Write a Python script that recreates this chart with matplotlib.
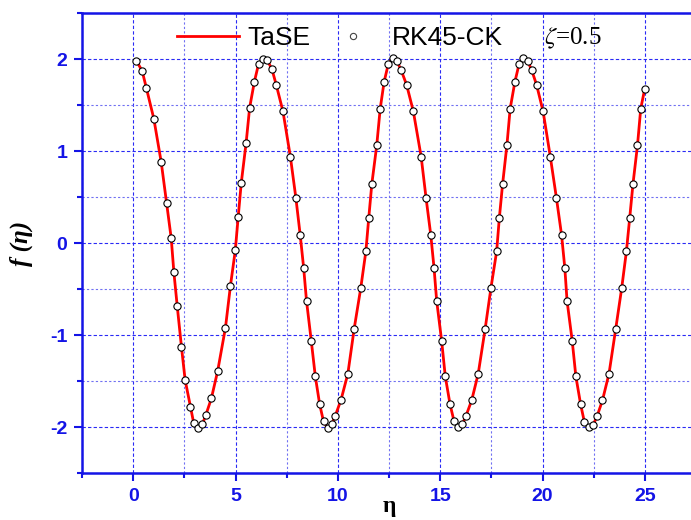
import numpy as np
import matplotlib
matplotlib.use('Agg')
import matplotlib.pyplot as plt
from matplotlib.lines import Line2D
from matplotlib.ticker import MultipleLocator

# values (TaSE line and RK45-CK circles coincide)
eta = [0.16, 0.44, 0.65, 1.01, 1.37, 1.63, 1.86, 1.99, 2.15, 2.36, 2.54, 2.80, 2.96, 3.16,
       3.38, 3.55, 3.82, 4.13, 4.51, 4.75, 4.99, 5.13, 5.28, 5.52, 5.69, 5.92, 6.13, 6.34,
       6.54, 6.78, 6.99, 7.32, 7.68, 7.95, 8.16, 8.33, 8.47, 8.70, 8.90, 9.11, 9.30, 9.51,
       9.70, 9.87, 10.15, 10.49, 10.80, 11.12, 11.37, 11.51, 11.66, 11.90, 12.07, 12.26,
       12.47, 12.68, 12.88, 13.09, 13.36, 13.69, 14.07, 14.31, 14.54, 14.70, 14.83, 15.07,
       15.25, 15.48, 15.68, 15.89, 16.08, 16.26, 16.54, 16.86, 17.20, 17.48, 17.76, 17.89,
       18.05, 18.26, 18.42, 18.65, 18.86, 19.03, 19.27, 19.47, 19.71, 20.03, 20.38, 20.68,
       20.93, 21.09, 21.20, 21.45, 21.63, 21.86, 22.05, 22.26, 22.47, 22.67, 22.93, 23.25,
       23.58, 23.87, 24.10, 24.26, 24.42, 24.64, 24.80, 24.99]
f_eta = [1.98, 1.87, 1.68, 1.35, 0.88, 0.44, 0.05, -0.32, -0.68, -1.13, -1.49, -1.78, -1.96, -2.01,
         -1.97, -1.87, -1.69, -1.39, -0.92, -0.47, -0.08, 0.28, 0.65, 1.09, 1.47, 1.75, 1.95, 2.00,
         1.99, 1.89, 1.72, 1.43, 0.94, 0.49, 0.09, -0.27, -0.63, -1.06, -1.45, -1.75, -1.94, -2.01,
         -1.97, -1.88, -1.71, -1.42, -0.93, -0.49, -0.09, 0.27, 0.64, 1.06, 1.46, 1.75,
         1.95, 2.01, 1.98, 1.88, 1.72, 1.43, 0.94, 0.49, 0.09, -0.27, -0.63, -1.06,
         -1.45, -1.75, -1.94, -2.00, -1.97, -1.88, -1.71, -1.42, -0.93, -0.49, -0.09, 0.27,
         0.64, 1.06, 1.46, 1.75, 1.95, 2.01, 1.98, 1.88, 1.72, 1.43, 0.94, 0.49,
         0.09, -0.27, -0.63, -1.06, -1.45, -1.75, -1.95, -2.00, -1.98, -1.88, -1.71, -1.42,
         -0.93, -0.49, -0.09, 0.27, 0.64, 1.06, 1.46, 1.67]
x_ticks = [0, 5, 10, 15, 20, 25]
y_ticks = [-2, -1, 0, 1, 2]

blue = '#1414e6'
plt.rcParams['mathtext.fontset'] = 'stix'
plt.rcParams['axes.unicode_minus'] = False

fig = plt.figure(figsize=(6.91, 5.2), dpi=100)
ax = fig.add_axes([82 / 691, 47 / 520, 614 / 691, 460 / 520])

ax.plot(eta, f_eta, color='#ff0000', lw=2, zorder=3)
ax.plot(eta, f_eta, 'o', ms=5.2, mfc='white', mec='black', mew=0.8, zorder=4)

ax.set_xlim(-2.5, 27.5)
ax.set_ylim(-2.5, 2.5)
ax.set_xticks(x_ticks)
ax.set_yticks(y_ticks)
ax.xaxis.set_minor_locator(MultipleLocator(2.5))
ax.yaxis.set_minor_locator(MultipleLocator(0.5))

# grid
ax.grid(True, which='major', color='#2a2af5', ls=(0, (3, 2)), lw=0.8)
ax.grid(True, which='minor', color='#7070f2', ls=(0, (2, 2)), lw=0.8)
ax.set_axisbelow(True)

for s in ax.spines.values():
    s.set_color(blue)
    s.set_linewidth(1.8)
ax.tick_params(which='major', direction='out', length=5.5, width=1.5, color=blue,
               labelcolor=blue, labelsize=14, pad=5, top=False, right=False)
ax.tick_params(which='minor', direction='out', length=3.5, width=1.5, color=blue,
               top=False, right=False)
for lab in ax.get_xticklabels() + ax.get_yticklabels():
    lab.set_fontweight('bold')
    lab.set_family('Liberation Sans')

ax.set_xlabel('η', fontsize=17, fontweight='bold', family='Liberation Serif', labelpad=-6)
ax.set_ylabel('f (η)', fontsize=18, fontweight='bold', fontstyle='italic',
              family='Liberation Serif', labelpad=12)

handles = [Line2D([], [], color='#ff0000', lw=2),
           Line2D([], [], ls='none', marker='o', ms=4.5, mfc='white', mec='#444444', mew=0.8)]
leg = ax.legend(handles, ['TaSE', 'RK45-CK'], ncol=2, loc='center left',
                bbox_to_anchor=((177 - 82) / 614, (473 - 38) / 460), frameon=False,
                borderpad=0, borderaxespad=0, handlelength=2.35, handletextpad=0.3,
                columnspacing=0.45, prop={'family': 'Liberation Sans', 'size': 19})
ax.text((544 - 82) / 614, (473 - 38) / 460, r'$\zeta$=0.5', transform=ax.transAxes,
        va='center', ha='left', fontsize=18, family='Liberation Serif')

fig.savefig('out.png', dpi=100)
